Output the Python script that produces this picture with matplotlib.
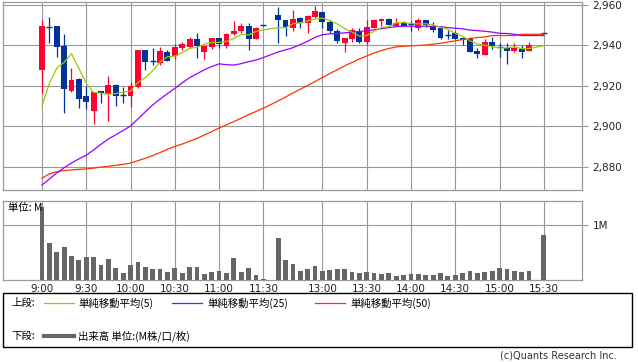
import matplotlib
matplotlib.use('Agg')
import matplotlib.pyplot as plt
from matplotlib.patches import Rectangle
from matplotlib.lines import Line2D

plt.rcParams['font.family'] = ['DejaVu Sans', 'Noto Sans CJK JP']

# ---- data (5-minute bars, slot index on a categorical time axis) ----
slots = list(range(0, 31)) + list(range(32, 67)) + [68]

opens = [2928.0, 2949.2, 2949.6, 2939.8, 2917.7, 2923.5, 2915.1, 2907.7, 2917.5, 2916.0,
         2920.5, 2915.8, 2915.1, 2919.3, 2937.8, 2932.5, 2931.5, 2936.6, 2934.8, 2938.9,
         2939.4, 2943.2, 2937.0, 2939.4, 2943.9, 2939.9, 2945.5, 2947.2, 2949.6, 2943.0,
         2949.9,
         2955.1, 2952.6, 2948.8, 2953.4, 2951.0, 2954.2, 2956.7, 2951.8, 2947.2, 2941.4,
         2943.2, 2946.8, 2941.9, 2948.5, 2952.3, 2953.1, 2949.6, 2951.0, 2950.6, 2948.5,
         2952.6, 2949.8, 2948.8, 2945.4, 2946.0, 2943.5, 2943.0, 2937.4, 2935.3, 2941.9,
         2939.4, 2938.9, 2937.3, 2938.3, 2937.4,
         2946.1]
highs = [2952.6, 2954.2, 2949.6, 2945.5, 2928.7, 2923.8, 2920.2, 2917.2, 2917.5, 2924.9,
         2921.0, 2919.3, 2922.1, 2937.8, 2937.8, 2938.9, 2939.1, 2937.8, 2940.7, 2941.9,
         2944.3, 2946.3, 2939.9, 2943.9, 2943.9, 2946.3, 2952.1, 2951.0, 2951.0, 2949.0,
         2949.9,
         2959.2, 2952.8, 2957.5, 2953.8, 2955.0, 2959.7, 2956.7, 2952.8, 2948.0, 2943.9,
         2948.5, 2948.5, 2952.6, 2953.1, 2953.4, 2953.4, 2953.4, 2952.0, 2952.3, 2953.7,
         2952.6, 2951.8, 2949.8, 2947.7, 2947.0, 2944.3, 2944.0, 2938.6, 2943.0, 2944.3,
         2941.1, 2941.1, 2941.1, 2940.2, 2941.6,
         2946.1]
lows = [2916.7, 2941.4, 2934.5, 2906.5, 2917.0, 2909.3, 2908.5, 2901.4, 2911.5, 2902.9,
        2910.1, 2911.5, 2909.8, 2918.8, 2927.9, 2930.4, 2930.4, 2932.5, 2933.2, 2937.8,
        2938.6, 2933.7, 2933.2, 2938.1, 2938.6, 2938.9, 2945.2, 2946.0, 2937.8, 2943.0,
        2949.7,
        2941.1, 2944.7, 2947.3, 2948.5, 2946.3, 2953.4, 2948.5, 2946.0, 2941.1, 2936.9,
        2941.9, 2941.0, 2940.2, 2948.5, 2949.6, 2950.1, 2949.6, 2949.6, 2947.3, 2947.7,
        2949.0, 2946.5, 2943.2, 2943.0, 2943.0, 2940.2, 2936.9, 2934.0, 2935.3, 2938.1,
        2934.5, 2930.7, 2937.0, 2934.0, 2937.4,
        2945.9]
closes = [2949.6, 2949.0, 2939.4, 2918.4, 2923.0, 2913.4, 2912.3, 2916.9, 2916.4, 2920.5,
          2915.1, 2915.6, 2920.0, 2937.8, 2932.0, 2932.3, 2937.3, 2932.5, 2939.4, 2940.6,
          2943.2, 2939.8, 2939.9, 2943.9, 2940.6, 2945.8, 2947.2, 2949.6, 2943.0, 2948.8,
          2949.8,
          2952.6, 2949.3, 2953.1, 2951.0, 2954.6, 2957.0, 2951.8, 2947.2, 2942.2, 2943.9,
          2947.7, 2941.9, 2949.0, 2952.6, 2953.1, 2950.1, 2951.0, 2949.6, 2950.4, 2952.6,
          2950.1, 2947.7, 2943.9, 2945.2, 2943.0, 2942.7, 2936.9, 2935.8, 2941.9, 2939.9,
          2939.0, 2937.3, 2938.9, 2937.0, 2940.2,
          2946.0]
volume_m = [1.33, 0.68, 0.515, 0.60, 0.436, 0.364, 0.424, 0.424, 0.273, 0.382,
            0.224, 0.127, 0.273, 0.327, 0.242, 0.20, 0.20, 0.145, 0.224, 0.127,
            0.242, 0.242, 0.109, 0.152, 0.164, 0.127, 0.406, 0.145, 0.224, 0.091,
            0.01,
            0.77, 0.364, 0.291, 0.164, 0.20, 0.255, 0.164, 0.182, 0.20, 0.20,
            0.145, 0.127, 0.145, 0.127, 0.109, 0.127, 0.073, 0.091, 0.109, 0.109,
            0.091, 0.091, 0.127, 0.073, 0.091, 0.127, 0.164, 0.127, 0.145, 0.164,
            0.218, 0.20, 0.164, 0.145, 0.164,
            0.818]
ma5 = [2910.1, 2921.3, 2928.7, 2931.7, 2935.9, 2928.6, 2921.3, 2916.8, 2916.4, 2915.9,
       2916.2, 2916.9, 2917.5, 2921.8, 2924.1, 2927.5, 2931.9, 2934.4, 2934.7, 2936.4,
       2938.6, 2939.1, 2940.6, 2941.5, 2941.5, 2942.0, 2943.5, 2945.4, 2945.2, 2946.9,
       2947.7,
       2948.8, 2948.7, 2950.7, 2951.2, 2952.1, 2953.0, 2953.5, 2952.3, 2950.6, 2948.4,
       2946.6, 2944.6, 2944.9, 2947.0, 2948.9, 2949.3, 2951.2, 2951.3, 2950.8, 2950.7,
       2950.7, 2950.1, 2948.9, 2947.9, 2946.0, 2944.5, 2942.3, 2940.7, 2940.1, 2939.4,
       2938.7, 2938.8, 2939.4, 2938.4, 2938.5,
       2939.9]
ma25 = [2871.1, 2874.0, 2877.0, 2879.6, 2881.9, 2884.0, 2885.8, 2888.4, 2891.2, 2893.8,
        2895.9, 2898.0, 2900.2, 2903.7, 2907.2, 2910.6, 2913.5, 2916.2, 2918.8, 2921.5,
        2924.1, 2926.0, 2928.0, 2929.6, 2930.9, 2930.5, 2930.3, 2931.0, 2932.0, 2932.8,
        2934.0,
        2936.8, 2937.8, 2938.9, 2940.4, 2942.1, 2944.0, 2945.3, 2945.7, 2945.9, 2946.2,
        2946.6, 2946.9, 2947.2, 2947.7, 2948.3, 2948.8, 2949.3, 2949.5, 2949.5, 2949.5,
        2949.5, 2949.4, 2949.3, 2948.8, 2948.5, 2948.2, 2947.6, 2947.3, 2947.0, 2946.6,
        2946.0, 2945.9, 2945.5, 2944.9, 2944.9,
        2944.9]
ma50 = [2874.4, 2876.6, 2877.6, 2878.2, 2878.5, 2878.8, 2879.0, 2879.4, 2879.9, 2880.3,
        2880.8, 2881.3, 2881.9, 2883.1, 2884.3, 2885.6, 2887.1, 2888.7, 2890.1, 2891.3,
        2892.7, 2894.1, 2895.8, 2897.4, 2899.2, 2900.8, 2902.4, 2904.1, 2905.8, 2907.4,
        2909.0,
        2912.6, 2914.5, 2916.5, 2918.4, 2920.2, 2922.2, 2924.2, 2926.1, 2928.0, 2929.9,
        2931.6, 2933.3, 2934.8, 2936.3, 2937.5, 2938.5, 2939.3, 2939.6, 2939.8, 2940.0,
        2940.2, 2940.6, 2941.1, 2941.7, 2942.3, 2942.9, 2943.4, 2943.9, 2944.2, 2944.9,
        2944.9, 2944.9, 2944.9, 2945.5, 2945.5,
        2945.5]

time_tick_slots = [0, 6, 12, 18, 24, 30, 38, 44, 50, 56, 62, 68]
time_tick_labels = ['9:00', '9:30', '10:00', '10:30', '11:00', '11:30',
                    '13:00', '13:30', '14:00', '14:30', '15:00', '15:30']
price_ticks = [2880, 2900, 2920, 2940, 2960]
price_tick_labels = ['2,880', '2,900', '2,920', '2,940', '2,960']
vol_ticks = [1.0]
vol_tick_labels = ['1M']

legend_upper = ['単純移動平均(5)', '単純移動平均(25)', '単純移動平均(50)']
legend_lower = '出来高 単位:(M株/口/枚)'

# ---- styles ----
UP = '#ff0033'
DOWN = '#003399'
C5 = '#99cc00'
C25 = '#9900ff'
C50 = '#ff3300'
GRID = '#999999'
VOL = '#666666'

W, H = 638, 362
fig = plt.figure(figsize=(W / 100, H / 100), dpi=100)

def fx(px):
    return px / W

def fy(py):
    return 1 - py / H

ax1 = fig.add_axes([fx(3), fy(190), fx(582) - fx(3), fy(1.5) - fy(190)])
ax2 = fig.add_axes([fx(3), fy(280), fx(582) - fx(3), fy(201) - fy(280)])

xmin, xmax = -5.28, 73.17
for ax in (ax1, ax2):
    ax.set_xlim(xmin, xmax)
    for s in ax.spines.values():
        s.set_color(GRID)
        s.set_linewidth(0.9)
    ax.set_xticks(time_tick_slots)
    ax.grid(True, color=GRID, linewidth=0.8)
    ax.set_axisbelow(True)
    ax.yaxis.tick_right()
    ax.tick_params(axis='y', direction='out', length=4.5, width=0.8, color=GRID,
                   labelsize=7.5, pad=3, labelcolor='#222222')
    ax.tick_params(axis='x', length=0)

ax1.set_ylim(2868.6, 2961.7)
ax1.set_yticks(price_ticks)
ax1.set_yticklabels(price_tick_labels)
ax1.set_xticklabels([])

ax2.set_ylim(0, 1.436)
ax2.set_yticks(vol_ticks)
ax2.set_yticklabels(vol_tick_labels)
ax2.set_xticklabels(time_tick_labels)
ax2.tick_params(axis='x', labelsize=7.5, pad=3, labelcolor='#222222')

# candles
body_w = 0.8
for x, o, h, l, c in zip(slots, opens, highs, lows, closes):
    col = UP if c > o else DOWN
    ax1.vlines(x, l, h, color=col, linewidth=0.9, zorder=3)
    bot = min(o, c)
    hgt = abs(c - o)
    if hgt < 0.5:
        ax1.hlines((o + c) / 2, x - body_w / 2, x + body_w / 2, color=col, linewidth=1.0, zorder=4)
    else:
        ax1.bar(x, hgt, bottom=bot, width=body_w, color=col, linewidth=0, zorder=4)

ax1.plot(slots, ma50, color=C50, linewidth=0.9, zorder=5)
ax1.plot(slots, ma25, color=C25, linewidth=0.9, zorder=5)
ax1.plot(slots, ma5, color=C5, linewidth=0.9, zorder=5)

# volume
ax2.bar(slots, volume_m, width=0.65, color=VOL, linewidth=0, zorder=3)
jp = ['Noto Sans CJK JP', 'DejaVu Sans']
fig.text(fx(8), fy(208), '単位: M', fontsize=7.5, va='center', ha='left', family=jp)

# legend box
fig.patches.append(Rectangle((fx(3), fy(347)), fx(632) - fx(3), fy(293) - fy(347),
                             transform=fig.transFigure, facecolor='white',
                             edgecolor='black', linewidth=1.0))
r1, r2 = fy(303), fy(336)
fig.text(fx(11), r1, '上段:', fontsize=7.5, va='center', family=jp)
fig.text(fx(11), r2, '下段:', fontsize=7.5, va='center', family=jp)
for (x0, x1, tx), col, lab in zip([(44, 74, 78), (172, 202, 207), (315, 345, 350)],
                                   [C5, C25, C50], legend_upper):
    fig.lines.append(Line2D([fx(x0), fx(x1)], [r1, r1], transform=fig.transFigure,
                            color=col, linewidth=0.9))
    fig.text(fx(tx), r1, lab, fontsize=7.5, va='center', family=jp)
fig.lines.append(Line2D([fx(44), fx(74)], [r2, r2], transform=fig.transFigure,
                        color=VOL, linewidth=3.0))
fig.text(fx(78), r2, legend_lower, fontsize=7.5, va='center', family=jp)

fig.text(fx(617), fy(356), '(c)Quants Research Inc.', fontsize=7, ha='right',
         va='center', color='#333333')

fig.savefig('out.png', dpi=100)
